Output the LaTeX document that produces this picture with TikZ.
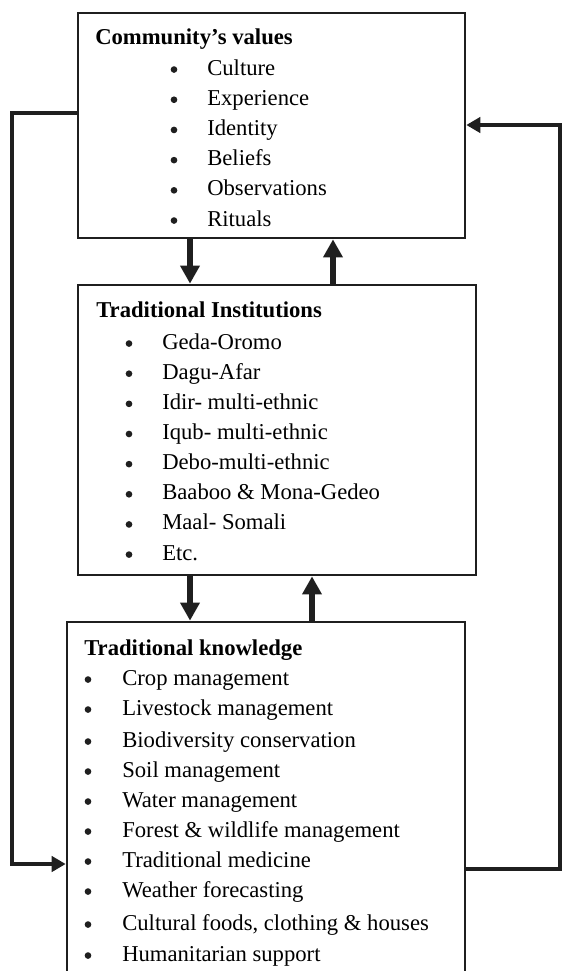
\documentclass[tikz,border=0pt]{standalone}
\usepackage{fontspec}
\setmainfont{Liberation Serif}
\usetikzlibrary{arrows.meta}

\tikzset{
  box/.style={draw=black!88, line width=2pt, inner sep=0pt},
  title/.style={anchor=base west, inner sep=0pt, font=\fontsize{17}{20}\selectfont\bfseries},
  item/.style={anchor=base west, inner sep=0pt, font=\fontsize{17}{20}\selectfont},
  dot/.style={circle, fill=black!88, inner sep=0pt, minimum size=5pt, yshift=4.1pt},
  flow/.style={draw=black!88, line width=3.9pt, -{Triangle[length=13.5pt,width=14pt]}},
  loopline/.style={draw=black!88, line width=2.5pt, -{Triangle[length=10.5pt,width=11.5pt]}}
}

\begin{document}
\begin{tikzpicture}[x=0.75pt,y=0.75pt,yscale=-1,xscale=1]
\useasboundingbox (0,0) rectangle (562,971);
\clip (0,0) rectangle (562,971);

%Shape: Rectangle [community's values]
\node[box, minimum width=290.25pt, minimum height=168.75pt] (values) at (271.5,125.5) {};
%Shape: Rectangle [traditional institutions]
\node[box, minimum width=298.5pt, minimum height=217.5pt] (institutions) at (277,430) {};
%Shape: Rectangle [traditional knowledge], runs off the page
\node[box, minimum width=298.5pt, minimum height=279.75pt] (knowledge) at (266,808.5) {};

% Text Node
\node[title] (valuesT) at (95,44.5) {Community’s values};
\foreach \i/\t in {0/Culture,1/Experience,2/Identity,3/Beliefs,4/Observations,5/Rituals}
  {\node[dot] (valuesB\i) at (174,75+30.2*\i) {};
   \node[item] (valuesI\i) at (207,75+30.2*\i) {\t};}

% Text Node
\node[title] (institutionsT) at (96,317) {Traditional Institutions};
\foreach \i/\t in {0/Geda-Oromo,1/Dagu-Afar,2/Idir- multi-ethnic,3/Iqub- multi-ethnic,
  4/Debo-multi-ethnic,5/Baaboo \& Mona-Gedeo,6/Maal- Somali,7/Etc.}
  {\node[dot] (institutionsB\i) at (129,349+30.15*\i) {};
   \node[item] (institutionsI\i) at (162,349+30.15*\i) {\t};}

% Text Node
\node[title] (knowledgeT) at (84,655) {Traditional knowledge};
\foreach \y/\t [count=\i] in {685/Crop management,715/Livestock management,
  747/Biodiversity conservation,777/Soil management,807/Water management,
  837/Forest \& wildlife management,867/Traditional medicine,897/Weather forecasting,
  930/{Cultural foods, clothing \& houses},961/Humanitarian support}
  {\node[dot] (knowledgeB\i) at (88,\y) {};
   \node[item] (knowledgeI\i) at (122,\y) {\t};}

%Straight Lines [arrows between the boxes]
\coordinate (xa) at (190,0);
\coordinate (xb) at (333,0);
\coordinate (xc) at (312,0);
\draw[flow] (values.south -| xa) -- (institutions.north -| xa);
\draw[flow] (institutions.north -| xb) -- (values.south -| xb);
\draw[flow] (institutions.south -| xa) -- (knowledge.north -| xa);
\draw[flow] (knowledge.north -| xc) -- (institutions.south -| xc);

%Straight Lines [feedback loops]
\coordinate (lt) at (12,113);
\coordinate (lb) at (12,864);
\coordinate (rt) at (560,125);
\coordinate (rb) at (560,869);
\draw[loopline] (values.west |- lt) -- (lt) -- (lb) -- (knowledge.west |- lb);
\draw[loopline] (knowledge.east |- rb) -- (rb) -- (rt) -- (values.east |- rt);
\end{tikzpicture}
\end{document}
